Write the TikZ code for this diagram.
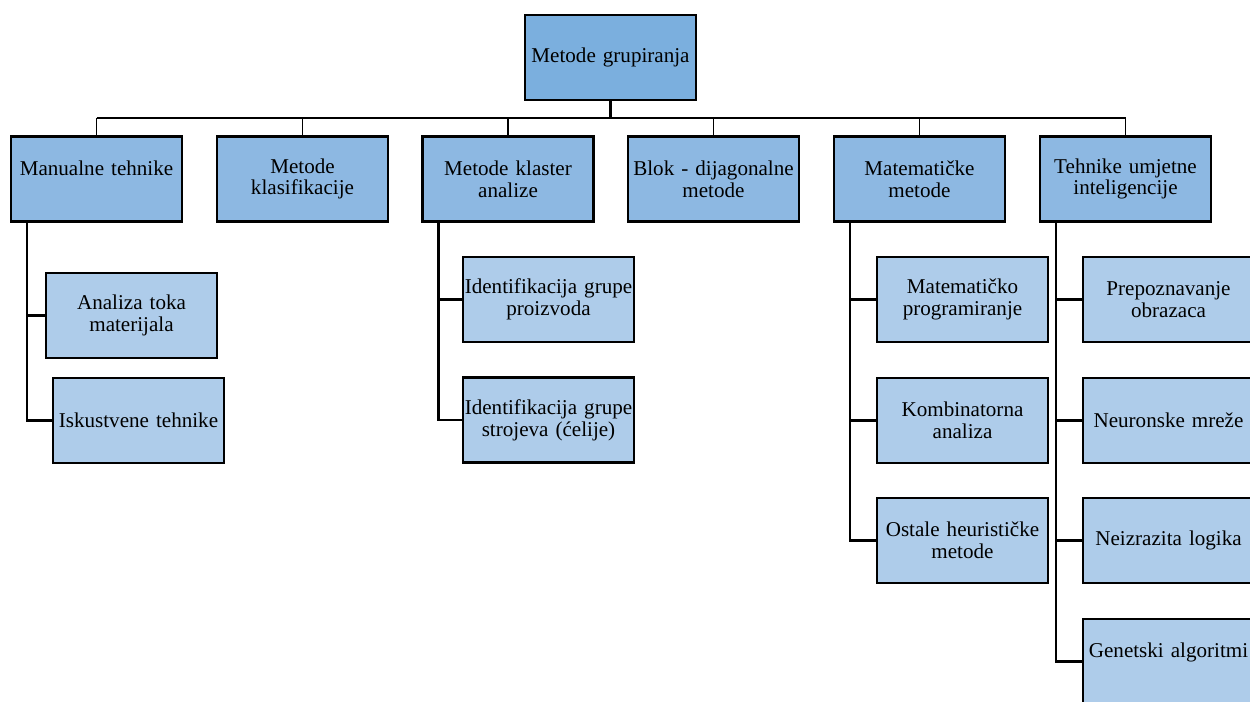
\documentclass[tikz,border=0pt]{standalone}
\usepackage{fontspec}
\setmainfont{Liberation Serif}
\definecolor{rootblue}{HTML}{7BAFDE}
\definecolor{groupblue}{HTML}{8DB8E2}
\definecolor{itemblue}{HTML}{AECCEA}
\tikzset{
  box/.style={draw=black, line width=1.3pt, rectangle, align=center,
    text width=3.38cm, inner xsep=0.02cm, inner ysep=0pt,
    minimum width=3.42cm, minimum height=1.7cm,
    font=\fontsize{12}{12.4}\selectfont},
  rootbox/.style={box, fill=rootblue},
  groupbox/.style={box, fill=groupblue},
  itembox/.style={box, fill=itemblue},
  link/.style={line width=1.4pt},
  stub/.style={line width=1pt}
}
\begin{document}
\begin{tikzpicture}[x=0.02cm, y=-0.02cm]
                \useasboundingbox (0,0) rectangle (1250,701);
                \node[rootbox] (root) at (610.5,57.5) {Metode grupiranja};
                % first level
                \node[groupbox] (manual) at (96.5,179) {Manualne tehnike\\\mbox{}};
                \node[groupbox] (klas) at (302.5,179) {Metode\\klasifikacije};
                \node[groupbox] (klaster) at (508,179) {Metode klaster\\analize};
                \node[groupbox] (blok) at (713.5,179) {Blok - dijagonalne\\metode};
                \node[groupbox] (mat) at (919.5,179) {Matematičke\\metode};
                \node[groupbox] (ai) at (1125.5,179) {Tehnike umjetne\\inteligencije};
                % second level
                \node[itembox] (tok) at (131.5,315.5) {Analiza toka\\materijala};
                \node[itembox] (isk) at (138.5,420.5) {Iskustvene tehnike};
                \node[itembox] (proiz) at (548.5,299.5) {Identifikacija grupe\\proizvoda};
                \node[itembox] (stroj) at (548.5,420) {Identifikacija grupe\\strojeva (ćelije)};
                \node[itembox] (prog) at (962.5,299.5) {Matematičko\\programiranje};
                \node[itembox] (komb) at (962.5,420.5) {Kombinatorna\\analiza};
                \node[itembox] (heur) at (962.5,540.5) {Ostale heurističke\\metode};
                \node[itembox] (obr) at (1168.5,299.5) {Prepoznavanje\\obrazaca};
                \node[itembox] (neur) at (1168.5,420.5) {Neuronske mreže};
                \node[itembox] (neiz) at (1168.5,540.5) {Neizrazita logika};
                \node[itembox] (gen) at (1168.5,661.5) {Genetski algoritmi\\\mbox{}};

                % bus
                \coordinate (bus) at (610.5,118);
                \draw[line width=1.8pt] (root.south) -- (bus);
                \draw[link] (bus -| manual.north) -- (bus -| ai.north);
                \foreach \g in {manual,klas,klaster,blok,mat,ai}
                    \draw[stub] (bus -| \g.north) -- (\g.north);

                % trunks
                \foreach \g/\s in {manual/tok,manual/isk,klaster/proiz,klaster/stroj,
                                   mat/prog,mat/komb,mat/heur,ai/obr,ai/neur,ai/neiz,ai/gen}
                    \draw[link] ([xshift=0.34cm]\g.south west) |- (\s.west);
            \end{tikzpicture}
\end{document}
